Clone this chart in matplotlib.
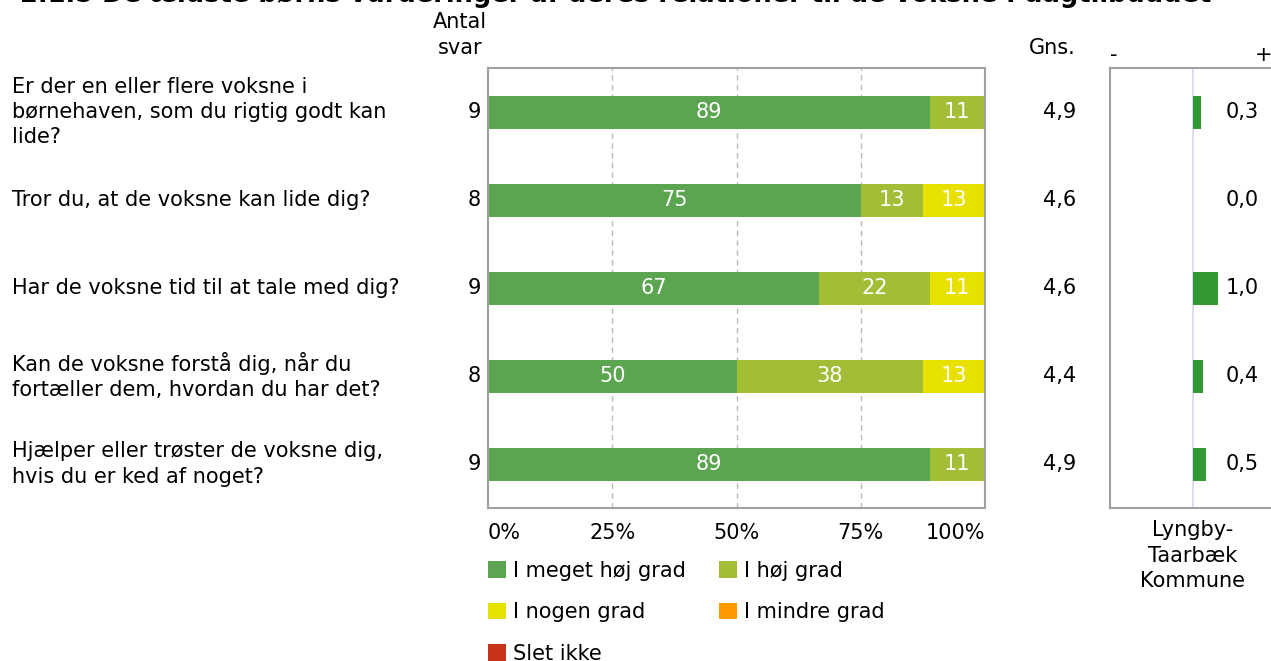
import numpy as np
import matplotlib.pyplot as plt
from matplotlib.patches import Patch

# data
questions = [
    "Er der en eller flere voksne i\nbørnehaven, som du rigtig godt kan\nlide?",
    "Tror du, at de voksne kan lide dig?",
    "Har de voksne tid til at tale med dig?",
    "Kan de voksne forstå dig, når du\nfortæller dem, hvordan du har det?",
    "Hjælper eller trøster de voksne dig,\nhvis du er ked af noget?",
]
n_answers = [9, 8, 9, 8, 9]
categories = ["I meget høj grad", "I høj grad", "I nogen grad", "I mindre grad", "Slet ikke"]
meget_hoej = [88.9, 75.0, 66.7, 50.0, 88.9]
hoej = [11.1, 12.5, 22.2, 37.5, 11.1]
nogen = [0.0, 12.5, 11.1, 12.5, 0.0]
mindre = [0.0, 0.0, 0.0, 0.0, 0.0]
slet_ikke = [0.0, 0.0, 0.0, 0.0, 0.0]
means = ["4,9", "4,6", "4,6", "4,4", "4,9"]
diffs = [0.3, 0.0, 1.0, 0.4, 0.5]
kommune = "Lyngby-\nTaarbæk\nKommune"
title = "2.1.5 De ældste børns vurderinger af deres relationer til de voksne i dagtilbuddet"

colors = ["#5BA551", "#A2BE37", "#E8E100", "#FF9900", "#C8341A"]
W, H = 1271, 661
FS = 15
LS = 1.33

plt.rcParams['font.family'] = ['DejaVu Sans']
fig = plt.figure(figsize=(W / 100, H / 100), dpi=100)

def fx(px):
    return px / W

def fy(py):
    return 1 - py / H

ax = fig.add_axes([fx(488), fy(508), fx(497), 440 / H])
ax2 = fig.add_axes([fx(1110), fy(508), fx(166), 440 / H])

y = np.arange(len(questions))
series = [meget_hoej, hoej, nogen, mindre, slet_ikke]
left = np.zeros(len(questions))
for vals, col in zip(series, colors):
    vals = np.array(vals)
    ax.barh(y, vals, left=left, height=0.375, color=col, linewidth=0)
    for yi, (l, v) in enumerate(zip(left, vals)):
        if v > 0:
            ax.text(l + v / 2, yi, str(int(v + 0.5)), ha='center', va='center',
                    color='white', fontsize=FS)
    left += vals

ax.set_xlim(0, 100)
ax.set_ylim(len(questions) - 0.5, -0.5)
ax.set_yticks([])
ax.set_xticks([0, 25, 50, 75, 100])
ax.set_xticklabels(["0%", "25%", "50%", "75%", "100%"], fontsize=FS)
tl = ax.get_xticklabels()
tl[0].set_ha('left')
tl[-1].set_ha('right')
ax.tick_params(axis='x', length=0, pad=11)
for xv in [25, 50, 75]:
    ax.axvline(xv, color='#BBBBBB', ls=(0, (4, 3)), lw=1, zorder=0)
for s in ax.spines.values():
    s.set_color('#A0A0A0')
    s.set_linewidth(1.5)

# question labels, counts, means
for yi, q in enumerate(questions):
    fig.text(fx(12), fy(112 + 88 * yi), q, ha='left', va='center', fontsize=FS,
             linespacing=LS)
    ax.text(-1.5, yi, str(n_answers[yi]), ha='right', va='center', fontsize=FS)
    fig.text(fx(1076), fy(112 + 88 * yi), means[yi], ha='right', va='center', fontsize=FS)

fig.text(fx(460), fy(35), "Antal\nsvar", ha='center', va='center', fontsize=FS,
         linespacing=LS)
fig.text(fx(1076), fy(48), "Gns.", ha='right', va='center', fontsize=FS)
fig.text(fx(1114), fy(55), "-", ha='center', va='center', fontsize=FS)
fig.text(fx(1264), fy(55), "+", ha='center', va='center', fontsize=FS)

# difference panel
ax2.barh(y, diffs, height=0.375, color='#339933', linewidth=0)
ax2.axvline(0, color='#D6D6F2', lw=1.2, zorder=0)
for yi, d in enumerate(diffs):
    ax2.text(1.3, yi, f"{d:.1f}".replace('.', ','), ha='left', va='center', fontsize=FS)
ax2.set_xlim(-3.32, 3.32)
ax2.set_ylim(len(questions) - 0.5, -0.5)
ax2.set_xticks([0])
ax2.set_xticklabels([kommune], fontsize=FS, linespacing=LS)
ax2.tick_params(axis='x', length=0, pad=9)
ax2.set_yticks([])
for s in ax2.spines.values():
    s.set_color('#A0A0A0')
    s.set_linewidth(1.5)

# legend (column-first order)
handles = [Patch(facecolor=c, edgecolor='none') for c in colors]
order = [0, 2, 4, 1, 3]
fig.legend([handles[i] for i in order], [categories[i] for i in order], ncol=2,
           loc='upper left', bbox_to_anchor=(fx(488), fy(561)), frameon=False,
           fontsize=FS, handlelength=0.85, handleheight=0.85, handletextpad=0.35,
           labelspacing=1.02, columnspacing=1.6, borderpad=0, borderaxespad=0)

fig.text(fx(20), fy(2), title, ha='left', va='baseline', fontsize=18.5, fontweight='bold')

fig.savefig("out.png", dpi=100)
